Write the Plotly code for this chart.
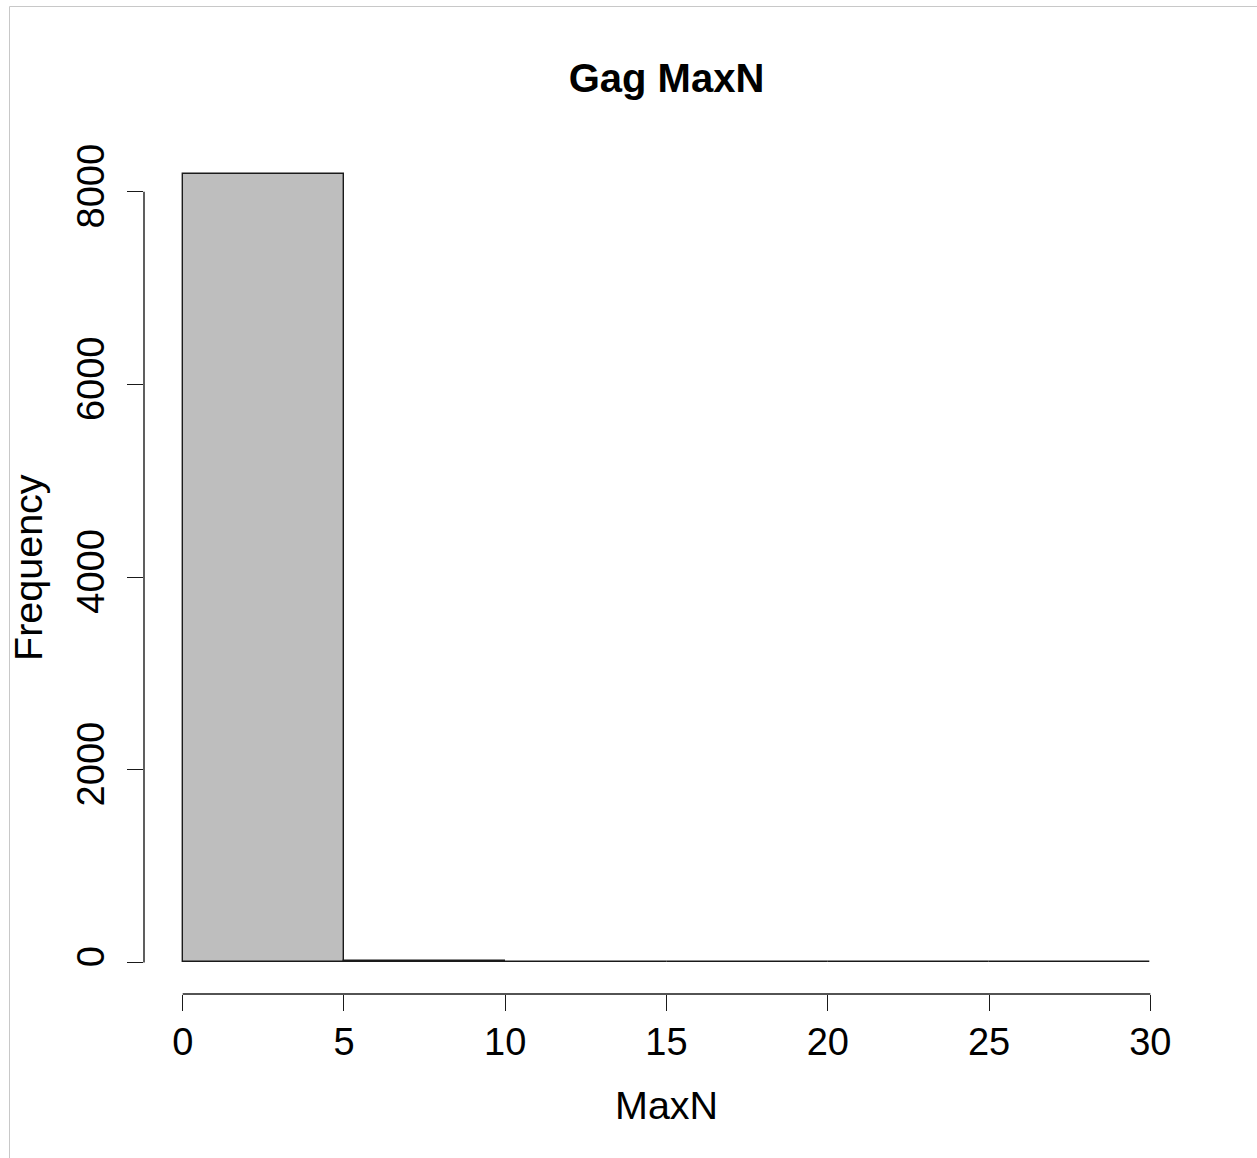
import plotly.graph_objects as go

# Histogram of gag MaxN counts, bins of width 5
bin_edges = [0, 5, 10, 15, 20, 25, 30]
counts = [8190, 20, 3, 1, 0, 1]
x_ticks = [0, 5, 10, 15, 20, 25, 30]
y_ticks = [0, 2000, 4000, 6000, 8000]

W, H = 1257, 1158
L, R, T, B = 144, 68, 142, 164
plot_w = W - L - R
plot_h = H - T - B

def px_x(p):
    return (p - L) / plot_w

def px_y(p):
    return (H - B - p) / plot_h

mids = [(a + b) / 2 for a, b in zip(bin_edges[:-1], bin_edges[1:])]
widths = [b - a for a, b in zip(bin_edges[:-1], bin_edges[1:])]

font_family = "Liberation Sans, Arial, sans-serif"
ink = "#1a1a1a"
ymax = max(counts)
pad_y = 0.04 * ymax
pad_x = 0.04 * (bin_edges[-1] - bin_edges[0])

fig = go.Figure(
    go.Bar(
        x=mids,
        y=counts,
        width=widths,
        marker=dict(color="#BEBEBE", line=dict(color=ink, width=1.4)),
        hoverinfo="x+y",
    )
)

fig.update_layout(
    width=W,
    height=H,
    margin=dict(l=L, r=R, t=T, b=B, pad=0),
    paper_bgcolor="white",
    plot_bgcolor="white",
    showlegend=False,
    bargap=0,
    font=dict(family=font_family, size=38, color="black"),
    title=dict(
        text="<b>Gag MaxN</b>",
        x=px_x((L + W - R) / 2),
        xref="paper",
        xanchor="center",
        y=1 - 77.5 / H,
        yref="container",
        yanchor="middle",
        font=dict(family=font_family, size=40, color="black"),
    ),
    xaxis=dict(
        range=[bin_edges[0] - pad_x, bin_edges[-1] + pad_x],
        tickvals=x_ticks,
        ticktext=[str(v) for v in x_ticks],
        ticks="outside",
        ticklen=16,
        tickwidth=1.4,
        tickcolor=ink,
        ticklabelstandoff=-2,
        showline=False,
        showgrid=False,
        zeroline=False,
        tickfont=dict(size=38),
        fixedrange=True,
    ),
    yaxis=dict(
        range=[-pad_y, ymax + pad_y],
        tickvals=y_ticks,
        ticktext=[str(v) for v in y_ticks],
        tickangle=-90,
        ticks="outside",
        ticklen=16,
        tickwidth=1.4,
        tickcolor=ink,
        ticklabelstandoff=8,
        showline=False,
        showgrid=False,
        zeroline=False,
        tickfont=dict(size=38),
        fixedrange=True,
    ),
    shapes=[
        # axis lines spanning first to last tick
        dict(type="line", xref="x", yref="paper", x0=x_ticks[0], x1=x_ticks[-1],
             y0=0, y1=0, line=dict(color=ink, width=1.4)),
        dict(type="line", xref="paper", yref="y", x0=0, x1=0,
             y0=y_ticks[0], y1=y_ticks[-1], line=dict(color=ink, width=1.4)),
        # panel frame
        dict(type="line", xref="paper", yref="paper", x0=px_x(9.5), x1=px_x(9.5),
             y0=px_y(6.5), y1=px_y(H), line=dict(color="#C8C8C8", width=1)),
        dict(type="line", xref="paper", yref="paper", x0=px_x(9.5), x1=px_x(W),
             y0=px_y(6.5), y1=px_y(6.5), line=dict(color="#C8C8C8", width=1)),
    ],
    annotations=[
        dict(text="MaxN", xref="paper", yref="paper", x=0.5, y=px_y(1104.5),
             xanchor="center", yanchor="middle", showarrow=False,
             font=dict(size=39.5)),
        dict(text="Frequency", xref="paper", yref="paper", x=px_x(28), y=0.5,
             xanchor="center", yanchor="middle", textangle=-90, showarrow=False,
             font=dict(size=39.5)),
    ],
)

fig.write_html("out.html")
